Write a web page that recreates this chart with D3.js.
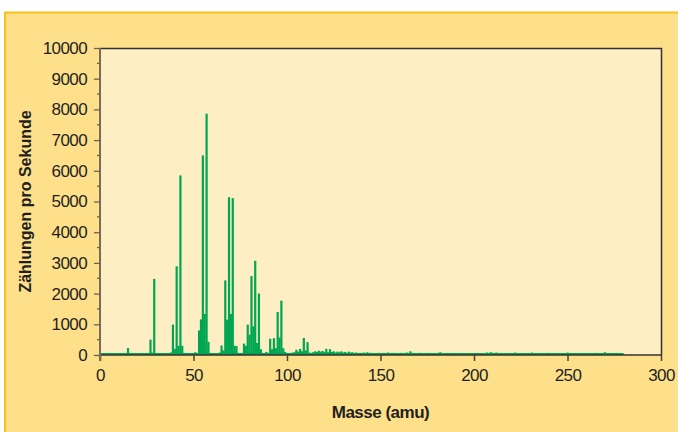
<!DOCTYPE html>
<html>
  <head>
    <script type="text/javascript" src="https://cdn.jsdelivr.net/npm/d3@7/dist/d3.min.js"></script>
    <style type="text/css">

html, body {
  margin: 0;
  background: #fff;
}

svg {
  display: block;
}

.tick text {
  font-family: "Liberation Sans", sans-serif;
  font-size: 17px;
  letter-spacing: -0.6px;
  fill: #231f20;
}

.title {
  font-family: "Liberation Sans", sans-serif;
  font-weight: bold;
  fill: #231f20;
}

    </style>
  </head>
  <body>
    <div id="chart"></div>
    <script type="text/javascript">

// counts per second, one value per integer mass
var peakStart = 0;
var peakCounts = [
  0, 0, 0, 0, 0, 0, 0, 0, 0, 0,                          // 0-9
  0, 0, 0, 0, 40, 230, 60, 20, 10, 0,                    // 10-19
  0, 0, 0, 0, 10, 10, 60, 500, 80, 2480,                 // 20-29
  60, 20, 10, 10, 10, 10, 10, 20, 80, 990,               // 30-39
  200, 2890, 300, 5850, 300, 30, 10, 10, 10, 10,         // 40-49
  50, 90, 60, 800, 1160, 6500, 1335, 7860, 430, 40,      // 50-59
  20, 20, 20, 60, 80, 310, 150, 2430, 1150, 5140,        // 60-69
  1335, 5110, 300, 290, 40, 30, 40, 370, 300, 990,       // 70-79
  660, 2570, 935, 3070, 390, 2000, 190, 40, 40, 100,     // 80-89
  60, 530, 190, 550, 220, 1400, 570, 1770, 220, 100,     // 90-99
  40, 60, 50, 80, 90, 170, 110, 200, 120, 555,           // 100-109
  150, 420                                               // 110-111
];

var tailStart = 112;
var tailCounts = [
  80, 60, 90, 120, 100, 140, 110, 130, 100, 200,         // 112-121
  90, 190, 100, 120, 80, 110, 90, 120, 80, 100,          // 122-131
  70, 110, 80, 90, 60, 80, 50, 70, 60, 80,               // 132-141
  50, 90, 60, 70, 40, 60, 50, 70, 40, 60,                // 142-151
  70, 50, 80, 60, 50, 70, 40, 60, 50, 70,                // 152-161
  40, 60, 80, 60, 120, 70, 50, 60, 40, 70,               // 162-171
  50, 60, 40, 50, 70, 40, 60, 50, 40, 70,                // 172-181
  90, 60, 40, 50, 70, 40, 50, 30, 60, 40,                // 182-191
  50, 60, 40, 30, 50, 40, 30, 40, 30, 40,                // 192-201
  30, 50, 40, 60, 50, 80, 60, 90, 70, 50,                // 202-211
  80, 60, 40, 50, 60, 40, 50, 30, 60, 50,                // 212-221
  80, 40, 60, 50, 40, 60, 50, 40, 60, 80,                // 222-231
  50, 40, 60, 50, 40, 60, 50, 40, 70, 50,                // 232-241
  40, 60, 50, 40, 30, 50, 40, 60, 80, 40,                // 242-251
  50, 30, 40, 60, 40, 50, 30, 40, 50, 40,                // 252-261
  60, 40, 50, 70, 40, 50, 60, 40, 90, 50,                // 262-271
  40, 60, 50, 40, 70, 50, 60, 40, 30                     // 272-280
];

var xTicks = [0, 50, 100, 150, 200, 250, 300];
var yTicks = [0, 1000, 2000, 3000, 4000, 5000, 6000, 7000, 8000, 9000, 10000];
var yMinorTicks = [500, 1500, 2500, 3500, 4500, 5500, 6500, 7500, 8500, 9500];

var data = peakCounts.map(function(v, i) { return {mass: peakStart + i, count: v}; })
    .concat(tailCounts.map(function(v, i) { return {mass: tailStart + i, count: v}; }));

drawChart();

function drawChart() {
  var width = 678,
      height = 432,
      plotLeft = 100,
      plotRight = 661,
      plotTop = 48,
      plotBottom = 355,
      green = "#00a651";

  var svg = d3.select("#chart").append("svg")
      .attr("width", width)
      .attr("height", height);

  // outer panel
  svg.append("rect")
      .attr("x", 5)
      .attr("y", 12.5)
      .attr("width", width)
      .attr("height", height)
      .style("fill", "#fee08b")
      .style("stroke", "#f8c21b")
      .style("stroke-width", 2);

  var x = d3.scaleLinear().domain([0, 300]).range([plotLeft, plotRight]);
  var y = d3.scaleLinear().domain([0, 10000]).range([plotBottom, plotTop]);

  // plot area
  svg.append("rect")
      .attr("x", plotLeft)
      .attr("y", plotTop)
      .attr("width", plotRight - plotLeft)
      .attr("height", plotBottom - plotTop)
      .style("fill", "#fdeec3");

  // top and right frame
  svg.append("path")
      .attr("d", "M" + plotLeft + "," + (plotTop + 0.5) + "H" + (plotRight + 0.5) + "V" + plotBottom)
      .style("fill", "none")
      .style("stroke", "#333")
      .style("stroke-width", 1.5);

  // spectrum bars
  svg.append("g").selectAll("rect")
      .data(data.filter(function(d) { return d.count > 0; }))
    .enter().append("rect")
      .attr("x", function(d) { return x(d.mass) - 1.1; })
      .attr("y", function(d) { return y(d.count); })
      .attr("width", 2.2)
      .attr("height", function(d) { return plotBottom - y(d.count); })
      .style("fill", green);

  // baseline trace
  svg.append("line")
      .attr("x1", x(0))
      .attr("x2", x(280))
      .attr("y1", plotBottom - 1)
      .attr("y2", plotBottom - 1)
      .style("stroke", green)
      .style("stroke-width", 2);

  // x axis
  var xAxis = svg.append("g")
      .attr("transform", "translate(0," + plotBottom + ")")
      .call(d3.axisBottom(x).tickValues(xTicks).tickSize(6).tickPadding(8));

  xAxis.selectAll("line").style("stroke", "#4a4338").style("stroke-width", 1.5);
  xAxis.select(".domain")
      .attr("d", "M" + plotLeft + ",0H" + plotRight)
      .style("stroke", "#333")
      .style("stroke-width", 1.5);

  // y axis
  var yAxis = svg.append("g")
      .attr("transform", "translate(" + plotLeft + ",0)")
      .call(d3.axisLeft(y).tickValues(yTicks).tickSize(6).tickPadding(7).tickFormat(d3.format("d")));

  yAxis.append("g").selectAll("line")
      .data(yMinorTicks)
    .enter().append("line")
      .attr("x1", -3)
      .attr("x2", 0)
      .attr("y1", function(d) { return y(d); })
      .attr("y2", function(d) { return y(d); });

  yAxis.selectAll("line").style("stroke", "#6d6250").style("stroke-width", 1.3);
  yAxis.select(".domain")
      .attr("d", "M0," + plotTop + "V" + (plotBottom + 6))
      .style("stroke", "#7a6c55")
      .style("stroke-width", 2);

  // axis titles
  svg.append("text")
      .attr("class", "title")
      .attr("transform", "translate(31," + ((plotTop + plotBottom) / 2) + ") rotate(-90)")
      .attr("text-anchor", "middle")
      .style("font-size", "16px")
      .text("Zählungen pro Sekunde");

  svg.append("text")
      .attr("class", "title")
      .attr("x", (plotLeft + plotRight) / 2)
      .attr("y", 418)
      .attr("text-anchor", "middle")
      .style("font-size", "17px")
      .style("letter-spacing", "-0.5px")
      .text("Masse (amu)");
}

    </script>
  </body>
</html>
